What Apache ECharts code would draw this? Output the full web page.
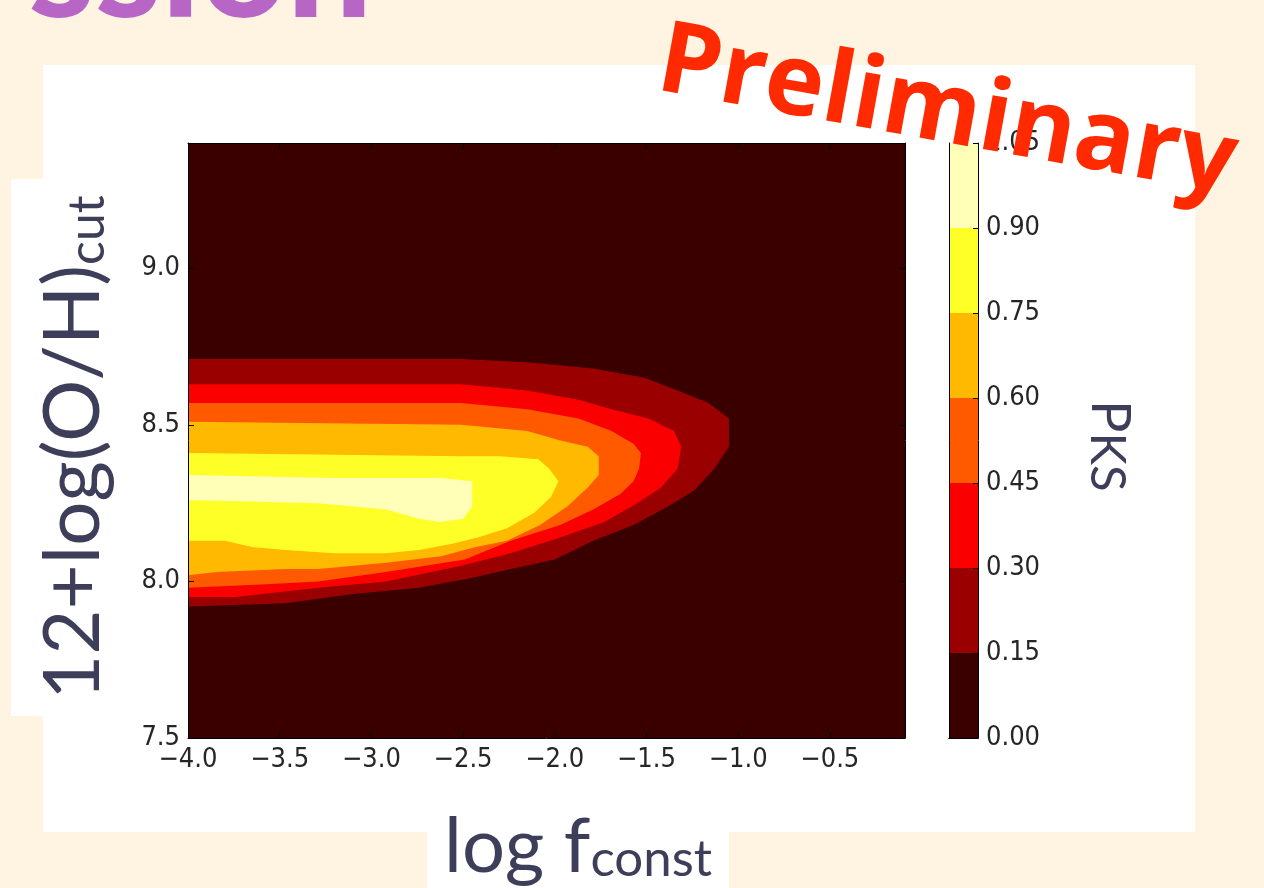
<!DOCTYPE html>
<html>
<head>
<meta charset="utf-8">
<script src="https://cdn.jsdelivr.net/npm/echarts@6/dist/echarts.min.js"></script>
<style>
    html, body { margin: 0; padding: 0; background: #fff4e2; }
    #chart { width: 1264px; height: 888px; }
</style>
</head>
<body>
<div id="chart"></div>
<script>
// contour levels of P_KS (colorbar ticks)
var cbLevels = [0.00, 0.15, 0.30, 0.45, 0.60, 0.75, 0.90, 1.05];

// contour boundaries, [log f_const, 12+log(O/H)_cut]
var c015 = [[-4.00, 8.71], [-2.51, 8.71], [-2.15, 8.70], [-1.79, 8.68], [-1.51, 8.65], [-1.33, 8.61],
    [-1.16, 8.57], [-1.05, 8.52], [-1.05, 8.43], [-1.13, 8.36], [-1.24, 8.29], [-1.38, 8.24],
    [-1.57, 8.18], [-1.79, 8.13], [-2.00, 8.07], [-2.24, 8.04], [-2.46, 8.01], [-2.74, 7.98],
    [-3.10, 7.96], [-3.47, 7.93], [-4.00, 7.92]];
var c030 = [[-4.00, 8.63], [-2.51, 8.63], [-2.15, 8.61], [-1.87, 8.58], [-1.69, 8.55], [-1.49, 8.52],
    [-1.35, 8.48], [-1.31, 8.43], [-1.33, 8.36], [-1.42, 8.30], [-1.55, 8.25], [-1.73, 8.19],
    [-1.97, 8.14], [-2.24, 8.09], [-2.51, 8.05], [-2.92, 8.00], [-3.29, 7.98], [-3.74, 7.95],
    [-4.00, 7.95]];
var c045 = [[-4.00, 8.57], [-2.51, 8.57], [-2.15, 8.55], [-1.87, 8.52], [-1.69, 8.48], [-1.57, 8.44],
    [-1.53, 8.41], [-1.54, 8.36], [-1.57, 8.32], [-1.64, 8.28], [-1.79, 8.23], [-1.97, 8.18],
    [-2.24, 8.13], [-2.49, 8.07], [-2.92, 8.03], [-3.29, 8.00], [-3.60, 7.99], [-4.00, 7.98]];
var c060 = [[-4.00, 8.51], [-2.51, 8.50], [-2.15, 8.48], [-1.97, 8.45], [-1.82, 8.43], [-1.76, 8.40],
    [-1.76, 8.36], [-1.76, 8.34], [-1.82, 8.30], [-1.93, 8.24], [-2.08, 8.18], [-2.26, 8.13],
    [-2.43, 8.11], [-2.62, 8.08], [-2.92, 8.06], [-3.29, 8.04], [-3.47, 8.04], [-3.84, 8.03],
    [-4.00, 8.02]];
var c075 = [[-4.00, 8.41], [-2.51, 8.40], [-2.30, 8.40], [-2.09, 8.39], [-2.03, 8.36], [-1.98, 8.32],
    [-2.02, 8.27], [-2.11, 8.22], [-2.26, 8.17], [-2.42, 8.14], [-2.56, 8.12], [-2.74, 8.10],
    [-2.92, 8.09], [-3.20, 8.09], [-3.47, 8.10], [-3.65, 8.11], [-3.80, 8.13], [-4.00, 8.13]];
var c090 = [[-4.00, 8.34], [-3.22, 8.33], [-2.62, 8.33], [-2.45, 8.32], [-2.45, 8.24], [-2.50, 8.20],
    [-2.63, 8.19], [-2.74, 8.20], [-2.92, 8.23], [-3.29, 8.25], [-4.00, 8.26]];

var contours = [c015, c030, c045, c060, c075, c090];

// 'hot' colormap, one colour per band
var bandColors = ['#3a0000', '#9a0000', '#fa0000', '#ff5a00', '#ffba00', '#ffff28', '#ffffb8'];

var tickFont = "'DejaVu Sans Condensed', 'DejaVu Sans', sans-serif";
var titleFont = "Lato, 'Open Sans', sans-serif";
var titleColor = '#3d3f5a';

function onStep(v, step) {
    var r = v / step;
    return Math.abs(r - Math.round(r)) < 1e-6;
}

function frameAxis(extra) {
    var a = {
        type : 'value',
        z : 10,
        splitLine : { show : false },
        axisLine : { show : true, onZero : false, lineStyle : { color : '#000', width : 1 } },
        axisTick : { show : true, inside : true, length : 6, lineStyle : { color : '#000' } },
        axisLabel : { show : false }
    };
    for (var k in extra) {
        a[k] = extra[k];
    }
    return a;
}

var labelStyle = { fontSize : 27, color : '#262626', fontFamily : tickFont, margin : 8 };

var chart = echarts.init(document.getElementById('chart'));

var bandSeries = [];
for (var i = 0; i < cbLevels.length - 1; i++) {
    bandSeries.push({
        type : 'bar',
        xAxisIndex : 2,
        yAxisIndex : 2,
        stack : 'cb',
        barWidth : '100%',
        silent : true,
        itemStyle : { color : bandColors[i] },
        data : [ +(cbLevels[i + 1] - cbLevels[i]).toFixed(2) ]
    });
}

chart.setOption({
    backgroundColor : '#fff4e2',
    animation : false,
    grid : [ {
        left : 188, top : 143, width : 717, height : 595,
        show : true, backgroundColor : bandColors[0], borderWidth : 0
    }, {
        left : 949, top : 143, width : 29, height : 595,
        show : false
    } ],
    xAxis : [
        frameAxis({
            gridIndex : 0, position : 'bottom', min : -4, max : -0.09, interval : 0.5,
            axisLabel : Object.assign({ show : true, formatter : function(v) {
                if (!onStep(v, 0.5)) return '';
                return (v < 0 ? '\u2212' : '') + Math.abs(v).toFixed(1);
            } }, labelStyle)
        }),
        frameAxis({ gridIndex : 0, position : 'top', min : -4, max : -0.09, interval : 0.5 }),
        { type : 'category', gridIndex : 1, data : [ 'P_KS' ], position : 'bottom', z : 10,
          axisLine : { show : true, lineStyle : { color : '#000' } },
          axisTick : { show : false }, axisLabel : { show : false } },
        { type : 'category', gridIndex : 1, data : [ 'P_KS' ], position : 'top', z : 10,
          axisLine : { show : true, lineStyle : { color : '#000' } },
          axisTick : { show : false }, axisLabel : { show : false } }
    ],
    yAxis : [
        frameAxis({
            gridIndex : 0, position : 'left', min : 7.5, max : 9.4, interval : 0.5,
            axisLabel : Object.assign({ show : true, formatter : function(v) {
                return onStep(v, 0.5) ? v.toFixed(1) : '';
            } }, labelStyle)
        }),
        frameAxis({ gridIndex : 0, position : 'right', min : 7.5, max : 9.4, interval : 0.5 }),
        frameAxis({
            gridIndex : 1, position : 'right', min : 0, max : 1.05, interval : 0.15,
            axisTick : { show : true, inside : true, length : 5, lineStyle : { color : '#000' } },
            axisLabel : Object.assign({ show : true, formatter : function(v) {
                return v.toFixed(2);
            } }, labelStyle)
        }),
        frameAxis({ gridIndex : 1, position : 'left', min : 0, max : 1.05, interval : 0.15,
            axisTick : { show : false } })
    ],
    series : [ {
        type : 'custom',
        xAxisIndex : 0,
        yAxisIndex : 0,
        silent : true,
        clip : true,
        data : contours.map(function(c) { return c[0]; }),
        renderItem : function(params, api) {
            var pts = contours[params.dataIndex].map(function(p) {
                return api.coord(p);
            });
            return {
                type : 'polygon',
                shape : { points : pts },
                style : { fill : bandColors[params.dataIndex + 1] }
            };
        }
    } ].concat(bandSeries),
    graphic : [
        // white slide panel and label boxes
        { type : 'rect', z : -10, shape : { x : 43, y : 65, width : 1152, height : 767 }, style : { fill : '#fff' } },
        { type : 'rect', z : -10, shape : { x : 11, y : 179, width : 60, height : 537 }, style : { fill : '#fff' } },
        { type : 'rect', z : -10, shape : { x : 427, y : 820, width : 302, height : 68 }, style : { fill : '#fff' } },
        // slide title remnant
        { type : 'text', z : 20, x : 372, y : -31,
          style : { text : 'ssion', fill : '#b866c6', fontSize : 150, fontWeight : 900,
                    fontFamily : titleFont, align : 'right', verticalAlign : 'middle' } },
        // y title
        { type : 'text', z : 20, x : 74, y : 700, rotation : Math.PI / 2,
          style : { text : '{m|12+log(O/H)}{s|cut}', align : 'left', verticalAlign : 'middle',
                    rich : {
                        m : { fontSize : 78, lineHeight : 78, fontFamily : titleFont, fill : titleColor },
                        s : { fontSize : 50, lineHeight : 28, verticalAlign : 'bottom', fontFamily : titleFont, fill : titleColor }
                    } } },
        // x title
        { type : 'text', z : 20, x : 578, y : 847,
          style : { text : '{m|log f}{s|const}', align : 'center', verticalAlign : 'middle',
                    rich : {
                        m : { fontSize : 76, lineHeight : 76, fontFamily : titleFont, fill : titleColor },
                        s : { fontSize : 51, lineHeight : 40, verticalAlign : 'bottom', fontFamily : titleFont, fill : titleColor }
                    } } },
        // colorbar title
        { type : 'text', z : 20, x : 1109, y : 400, rotation : -Math.PI / 2,
          style : { text : '{m|P}{s|KS}', align : 'left', verticalAlign : 'middle',
                    rich : {
                        m : { fontSize : 54, lineHeight : 54, fontFamily : titleFont, fill : titleColor },
                        s : { fontSize : 49, lineHeight : 32, verticalAlign : 'bottom', fontFamily : titleFont, fill : titleColor }
                    } } },
        // stamp
        { type : 'text', z : 30, x : 659, y : 61, rotation : -0.18,
          style : { text : 'Preliminary', fill : '#ff2a00', fontSize : 100, fontWeight : 'bold',
                    fontFamily : "'Open Sans', Lato, sans-serif", align : 'left', verticalAlign : 'middle' } }
    ]
});
</script>
</body>
</html>
